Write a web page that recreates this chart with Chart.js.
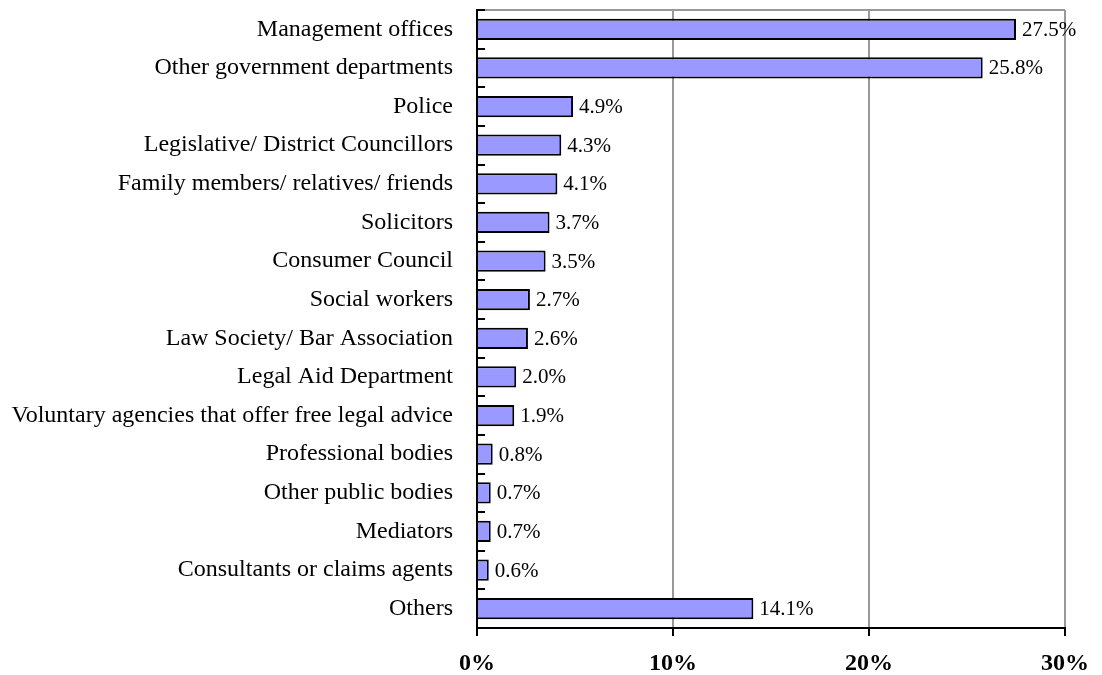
<!DOCTYPE html>
<html lang="en">
<head>
  <meta charset="UTF-8">
  <title>Sources of help</title>
  <script src="https://cdn.jsdelivr.net/npm/chart.js"></script>
  <style>
    html, body { margin: 0; padding: 0; background: #fff; }
    #wrap { width: 1102px; height: 675px; }
  </style>
</head>
<body>
  <div id="wrap"><canvas id="myBarChart" width="1102" height="675"></canvas></div>

  <script>
    // Categories and values (percent)
    const categories = [
      'Management offices', 'Other government departments', 'Police',
      'Legislative/ District Councillors', 'Family members/ relatives/ friends',
      'Solicitors', 'Consumer Council', 'Social workers',
      'Law Society/ Bar Association', 'Legal Aid Department',
      'Voluntary agencies that offer free legal advice', 'Professional bodies',
      'Other public bodies', 'Mediators', 'Consultants or claims agents', 'Others'
    ];
    const values = [27.5, 25.8, 4.9, 4.3, 4.1, 3.7, 3.5, 2.7, 2.6, 2.0, 1.9, 0.8, 0.7, 0.7, 0.6, 14.1];
    const xTicks = [0, 10, 20, 30];

    const serif = '"Liberation Serif", "Times New Roman", serif';
    const gridGray = '#999999';

    // draws the value labels, the inside ticks on the category axis and the top border
    const extras = {
      id: 'extras',
      afterDatasetsDraw(chart) {
        const ctx = chart.ctx;
        const area = chart.chartArea;
        ctx.save();
        // top border
        ctx.strokeStyle = gridGray;
        ctx.lineWidth = 2;
        ctx.beginPath();
        ctx.moveTo(area.left, area.top);
        ctx.lineTo(area.right, area.top);
        ctx.stroke();
        // category ticks (inside)
        ctx.strokeStyle = '#000';
        const step = (area.bottom - area.top) / categories.length;
        for (let i = 0; i <= categories.length; i++) {
          const py = Math.round(area.top + i * step);
          ctx.beginPath();
          ctx.moveTo(area.left, py);
          ctx.lineTo(area.left + 8, py);
          ctx.stroke();
        }
        // value labels
        ctx.fillStyle = '#000';
        ctx.font = '21px ' + serif;
        ctx.textBaseline = 'middle';
        const meta = chart.getDatasetMeta(0);
        meta.data.forEach((bar, i) => {
          ctx.fillText(values[i].toFixed(1) + '%', bar.x + 6, bar.y + 1);
        });
        ctx.restore();
      }
    };

    const ctx = document.getElementById('myBarChart').getContext('2d');
    const myBarChart = new Chart(ctx, {
      type: 'bar',
      data: {
        labels: categories,
        datasets: [{
          data: values,
          backgroundColor: '#9999ff',
          borderColor: '#000',
          borderWidth: 2,
          borderSkipped: 'left',
          barPercentage: 0.55,
          categoryPercentage: 1.0
        }]
      },
      options: {
        indexAxis: 'y',
        responsive: false,
        animation: false,
        layout: { padding: { top: 10, right: 37, left: 0, bottom: 0 } },
        plugins: {
          legend: { display: false },
          tooltip: { enabled: false }
        },
        scales: {
          x: {
            min: 0,
            max: 30,
            afterBuildTicks: (scale) => { scale.ticks = xTicks.map(v => ({ value: v })); },
            afterFit: (scale) => { scale.height = 47; },
            grid: {
              color: gridGray,
              lineWidth: 2,
              tickColor: '#000',
              tickLength: 8,
              drawOnChartArea: true
            },
            border: { color: '#000', width: 2 },
            ticks: {
              color: '#000',
              padding: 13,
              font: { family: serif, size: 24, weight: 'bold' },
              callback: (v) => v + '%'
            }
          },
          y: {
            afterFit: (scale) => {
              scale.width = 477;
              // labels sit inside the category bands, no extra room needed above/below
              scale.paddingTop = 0;
              scale.paddingBottom = 0;
            },
            grid: { display: false, drawTicks: false },
            border: { color: '#000', width: 2 },
            ticks: {
              color: '#000',
              padding: 24,
              font: { family: serif, size: 24 }
            }
          }
        }
      },
      plugins: [extras]
    });
  </script>
</body>
</html>
